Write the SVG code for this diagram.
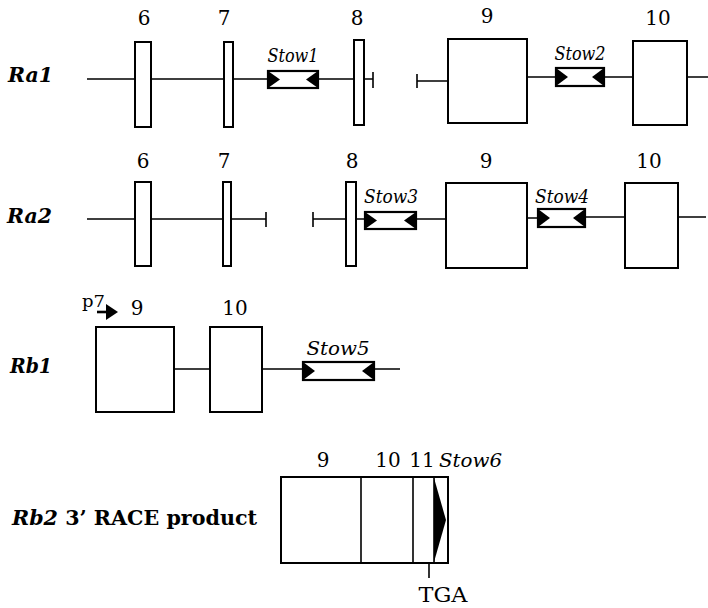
<svg xmlns="http://www.w3.org/2000/svg" width="708" height="608" viewBox="0 0 708 608">
<style>
text{font-family:"DejaVu Serif","Liberation Serif",serif;fill:#000}
.num{font-size:20px;text-anchor:middle}
.stow{font-size:18px;font-style:italic;text-anchor:middle}
.row{font-size:21px;font-weight:bold;font-style:italic}
.ex{fill:#fff;stroke:#000;stroke-width:2}
.sb{fill:#fff;stroke:#000;stroke-width:2.2}
.tri{fill:#000}
.ln{stroke:#000;stroke-width:1.6;fill:none}
</style>
<rect width="708" height="608" fill="#fff"/>
<g id="connectors">
<path class="ln" d="M87 79H135M151 79H224M233 79H268M318 79H354M364 79H373M373 72V88"/>
<path class="ln" d="M417 74V88M417 81H448M527 77H556M604 77H633M687 77H708"/>
<path class="ln" d="M87 219H135M151 219H223M231 219H266M266 212V227"/>
<path class="ln" d="M313 212V227M313 219H346M356 219H365M416 219H446M527 218H538M585 217H625M678 217H706"/>
<path class="ln" d="M174 369H210M262 369H303M374 369H400"/>
<path d="M97 312H109" stroke="#000" stroke-width="2.6"/>
<polygon class="tri" points="106,304 118,312 106,320"/>
<path class="ln" d="M429 563V578"/>
</g>
<g id="labels">
<text class="row" x="8" y="82" textLength="45" lengthAdjust="spacingAndGlyphs">Ra1</text>
<text class="row" x="7" y="223" textLength="45" lengthAdjust="spacingAndGlyphs">Ra2</text>
<text class="row" x="10" y="373" textLength="42" lengthAdjust="spacingAndGlyphs">Rb1</text>
<text x="12" y="525" font-size="20" font-weight="bold" textLength="245" lengthAdjust="spacingAndGlyphs"><tspan font-style="italic">Rb2</tspan> 3’ RACE product</text>
<text x="82" y="307" font-size="16" textLength="23" lengthAdjust="spacingAndGlyphs">p7</text>
</g>
<g id="ra1-exon6"><rect class="ex" x="135" y="42" width="16" height="85"/><text class="num" x="144" y="25">6</text></g>
<g id="ra1-exon7"><rect class="ex" x="224" y="42" width="9" height="85"/><text class="num" x="224" y="25">7</text></g>
<g id="ra1-stow1"><rect class="sb" x="268" y="71" width="50" height="17"/><polygon class="tri" points="268,71 280,79.5 268,88"/><polygon class="tri" points="318,71 306,79.5 318,88"/><text class="stow" x="293" y="62" textLength="51" lengthAdjust="spacingAndGlyphs">Stow1</text></g>
<g id="ra1-exon8"><rect class="ex" x="354" y="40" width="10" height="85"/><text class="num" x="357" y="25">8</text></g>
<g id="ra1-exon9"><rect class="ex" x="448" y="39" width="79" height="84"/><text class="num" x="487" y="23">9</text></g>
<g id="ra1-stow2"><rect class="sb" x="556" y="68" width="48" height="18"/><polygon class="tri" points="556,68 568,77 556,86"/><polygon class="tri" points="604,68 592,77 604,86"/><text class="stow" x="580" y="60" textLength="51" lengthAdjust="spacingAndGlyphs">Stow2</text></g>
<g id="ra1-exon10"><rect class="ex" x="633" y="41" width="54" height="84"/><text class="num" x="658" y="25">10</text></g>

<g id="ra2-exon6"><rect class="ex" x="135" y="182" width="16" height="84"/><text class="num" x="143" y="168">6</text></g>
<g id="ra2-exon7"><rect class="ex" x="223" y="182" width="8" height="84"/><text class="num" x="224" y="168">7</text></g>
<g id="ra2-exon8"><rect class="ex" x="346" y="182" width="10" height="84"/><text class="num" x="352" y="168">8</text></g>
<g id="ra2-stow3"><rect class="sb" x="365" y="212" width="51" height="17"/><polygon class="tri" points="365,212 377,220.5 365,229"/><polygon class="tri" points="416,212 404,220.5 416,229"/><text class="stow" x="391" y="203" textLength="54" lengthAdjust="spacingAndGlyphs">Stow3</text></g>
<g id="ra2-exon9"><rect class="ex" x="446" y="183" width="81" height="85"/><text class="num" x="486" y="168">9</text></g>
<g id="ra2-stow4"><rect class="sb" x="538" y="209" width="47" height="18"/><polygon class="tri" points="538,209 550,218 538,227"/><polygon class="tri" points="585,209 573,218 585,227"/><text class="stow" x="562" y="203" textLength="54" lengthAdjust="spacingAndGlyphs">Stow4</text></g>
<g id="ra2-exon10"><rect class="ex" x="625" y="183" width="53" height="85"/><text class="num" x="649" y="168">10</text></g>

<g id="rb1-exon9"><rect class="ex" x="96" y="327" width="78" height="85"/><text class="num" x="137" y="315">9</text></g>
<g id="rb1-exon10"><rect class="ex" x="210" y="327" width="52" height="85"/><text class="num" x="235" y="315">10</text></g>
<g id="rb1-stow5"><rect class="sb" x="303" y="362" width="71" height="18"/><polygon class="tri" points="303,362 315,371 303,380"/><polygon class="tri" points="374,362 362,371 374,380"/><text class="stow" x="338" y="355" textLength="63" lengthAdjust="spacingAndGlyphs">Stow5</text></g>

<g id="rb2-product">
<rect class="ex" x="281" y="477" width="167" height="86"/>
<path class="ln" d="M361 477V563M413 477V563M434 477V563" stroke-width="1.8"/>
<polygon class="tri" points="434,478 446,520 434,562"/>
<text class="num" x="323" y="467">9</text>
<text class="num" x="388" y="467">10</text>
<text class="num" x="422" y="467">11</text>
<text x="439" y="467" font-size="18" font-style="italic" textLength="63" lengthAdjust="spacingAndGlyphs">Stow6</text>
<text x="443" y="602" font-size="20" text-anchor="middle" textLength="49" lengthAdjust="spacingAndGlyphs">TGA</text>
</g>
</svg>
